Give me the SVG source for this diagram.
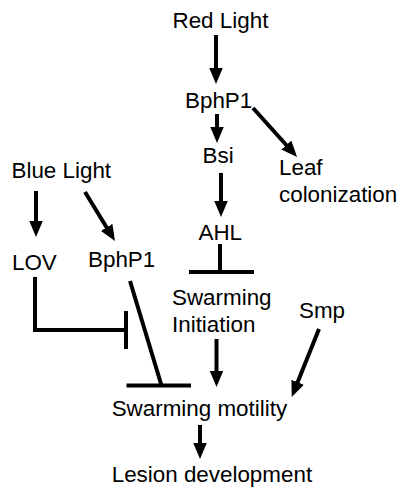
<svg xmlns="http://www.w3.org/2000/svg" width="400" height="489" viewBox="0 0 400 489">
<style>
text{font-family:"Liberation Sans",Arial,sans-serif;font-size:22.4px;fill:#000}
.c line,.c polyline{stroke:#000;stroke-width:4;fill:none}
</style>
<defs>
<marker id="ah" markerUnits="userSpaceOnUse" markerWidth="17" markerHeight="14" refX="8" refY="6.75" orient="auto">
<path d="M0,0 L16,6.75 L0,13.5 z" fill="#000"/>
</marker>
</defs>
<rect width="400" height="489" fill="#fff"/>
<g class="c" id="connectors">
<line x1="216" y1="35" x2="216" y2="76" marker-end="url(#ah)"/>
<line x1="217" y1="114" x2="217" y2="135" marker-end="url(#ah)"/>
<line x1="253" y1="108" x2="291.7" y2="151" marker-end="url(#ah)"/>
<line x1="221" y1="173" x2="221" y2="209" marker-end="url(#ah)"/>
<line x1="36" y1="191" x2="36" y2="229" marker-end="url(#ah)"/>
<line x1="85" y1="192" x2="110.8" y2="234.2" marker-end="url(#ah)"/>
<line x1="216.5" y1="339" x2="216.5" y2="379" marker-end="url(#ah)"/>
<line x1="319" y1="329" x2="294.7" y2="389.6" marker-end="url(#ah)"/>
<line x1="200" y1="425" x2="200" y2="451" marker-end="url(#ah)"/>
<line x1="220" y1="244" x2="220" y2="272"/>
<line x1="189" y1="272" x2="254" y2="272"/>
<polyline points="35,277 35,330 126,330"/>
<line x1="126" y1="311" x2="126" y2="349"/>
<line x1="130" y1="281" x2="161.5" y2="385.5"/>
<line x1="126.5" y1="385.5" x2="191" y2="385.5"/>
</g>
<g id="red-light"><text x="172.5" y="27.5">Red Light</text></g>
<g id="bphp1-top"><text x="185" y="108">BphP1</text></g>
<g id="bsi"><text x="202.5" y="163">Bsi</text></g>
<g id="leaf-colonization"><text x="279" y="174.5">Leaf</text><text x="279" y="201.5">colonization</text></g>
<g id="ahl"><text x="198.5" y="239.5">AHL</text></g>
<g id="blue-light"><text x="11.5" y="177.7">Blue Light</text></g>
<g id="lov"><text x="12" y="270">LOV</text></g>
<g id="bphp1-left"><text x="88" y="267">BphP1</text></g>
<g id="swarming-initiation"><text x="172" y="305">Swarming</text><text x="172" y="331.7">Initiation</text></g>
<g id="smp"><text x="299" y="318.3">Smp</text></g>
<g id="swarming-motility"><text x="111.7" y="416">Swarming motility</text></g>
<g id="lesion-development"><text x="111.7" y="482.3">Lesion development</text></g>
</svg>
